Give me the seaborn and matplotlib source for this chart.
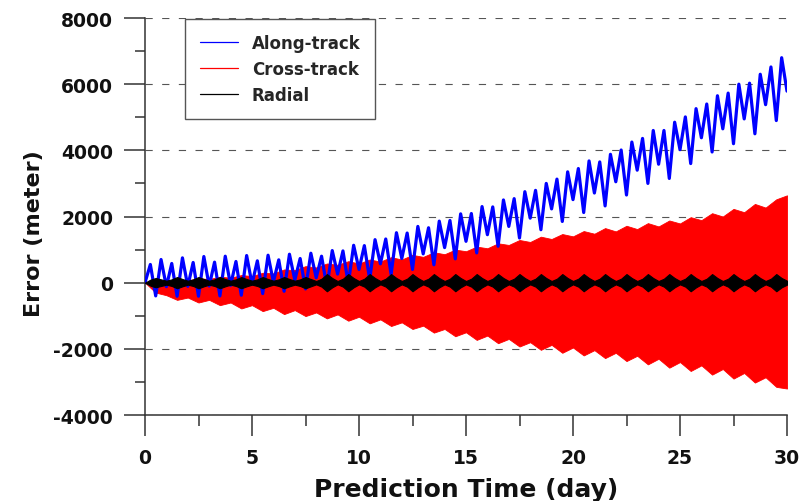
import numpy as np
import matplotlib
matplotlib.use("Agg")
import matplotlib.pyplot as plt
from matplotlib.lines import Line2D
from matplotlib.ticker import MultipleLocator
import seaborn as sns

# ---------------- data ----------------
# time grids (days)
days_fine = np.arange(0, 30.001, 0.25)   # 121 samples
days_half = np.arange(0, 30.001, 0.5)    # 61 samples

# Along-track error (m), sampled every 0.25 day
along_track = [
    0, 550, -400, 700,
    -120, 580, -410, 750,
    -110, 610, -410, 790,
    -100, 620, -400, 800,
    -80, 640, -380, 820,
    -40, 660, -330, 830,
    20, 690, -260, 860,
    80, 730, -190, 890,
    150, 800, -130, 970,
    260, 960, -30, 1130,
    400, 1120, 100, 1300,
    570, 1320, 250, 1510,
    730, 1500, 400, 1700,
    870, 1660, 540, 1860,
    1060, 1880, 720, 2080,
    1250, 2090, 900, 2300,
    1450, 2290, 1100, 2500,
    1700, 2540, 1350, 2750,
    1950, 2790, 1600, 3000,
    2230, 3130, 1850, 3350,
    2510, 3450, 2120, 3680,
    2710, 3650, 2320, 3880,
    3050, 4010, 2650, 4250,
    3400, 4360, 3000, 4600,
    3580, 4600, 3150, 4850,
    4020, 5010, 3600, 5260,
    4380, 5400, 3950, 5650,
    4650, 5730, 4200, 6000,
    4950, 6030, 4500, 6300,
    5380, 6520, 4900, 6800,
    5790,
]

# Cross-track error envelope (m), sampled every 0.5 day
cross_upper = [
    0, 60, 40, 90, 70, 130, 110, 180, 150, 230,
    200, 300, 280, 400, 380, 500, 460, 580, 540, 650,
    580, 700, 640, 770, 700, 840, 780, 920, 860, 1000,
    950, 1090, 1040, 1190, 1140, 1290, 1230, 1390, 1320, 1470,
    1400, 1560, 1480, 1650, 1550, 1720, 1620, 1800, 1700, 1880,
    1790, 1980, 1890, 2100, 2000, 2230, 2130, 2380, 2270, 2520,
    2640,
]
cross_lower = [
    0, -300, -380, -520, -450, -600, -520, -680, -600, -780,
    -680, -860, -760, -950, -830, -1010, -900, -1080, -960, -1150,
    -1030, -1230, -1110, -1310, -1200, -1400, -1300, -1510, -1400, -1620,
    -1500, -1730, -1600, -1830, -1700, -1930, -1800, -2030, -1880, -2120,
    -1960, -2200, -2040, -2280, -2120, -2370, -2210, -2470, -2300, -2570,
    -2400, -2670, -2500, -2780, -2610, -2900, -2730, -3020, -2860, -3150,
    -3200,
]

# Radial error half-width (m), sampled every 0.25 day
radial_amp = [
    0, 90, 140, 100,
    60, 100, 170, 110,
    60, 100, 170, 110,
    60, 100, 170, 110,
    60, 100, 170, 110,
    60, 100, 170, 110,
    60, 100, 170, 110,
    60, 100, 170, 110,
    50, 120, 260, 140,
    50, 120, 260, 140,
    50, 120, 260, 140,
    50, 120, 260, 140,
    50, 120, 260, 140,
    50, 120, 260, 140,
    50, 120, 260, 140,
    50, 120, 260, 140,
    50, 120, 260, 140,
    50, 120, 260, 140,
    50, 120, 260, 140,
    50, 120, 260, 140,
    50, 120, 260, 140,
    50, 120, 260, 140,
    50, 120, 260, 140,
    50, 120, 260, 140,
    50, 120, 260, 140,
    50, 120, 260, 140,
    50, 120, 260, 140,
    50, 120, 260, 140,
    50, 120, 260, 140,
    50, 120, 260, 140,
    60,
]

x_ticks = [0, 5, 10, 15, 20, 25, 30]
y_ticks = [-4000, -2000, 0, 2000, 4000, 6000, 8000]
series_labels = ["Along-track", "Cross-track", "Radial"]
series_colors = ["#0000ff", "#ff0000", "#000000"]

# ---------------- style ----------------
sns.set_style("ticks")
plt.rcParams["font.family"] = ["DejaVu Sans"]
plt.rcParams["font.weight"] = "bold"
plt.rcParams["axes.unicode_minus"] = False

fig = plt.figure(figsize=(8.1, 5.02), dpi=100)
ax = fig.add_axes([145 / 810, 1 - 416 / 502, 642 / 810, 397 / 502])

# Cross-track (dense oscillation drawn as its envelope)
ax.fill_between(days_half, cross_lower, cross_upper, color=series_colors[1],
                lw=0.6, edgecolor=series_colors[1], zorder=2)
# Along-track
sns.lineplot(x=days_fine, y=along_track, color=series_colors[0], lw=2.3,
             estimator=None, sort=False, ax=ax, zorder=3, legend=False)
# Radial
radial_lo = [-v for v in radial_amp]
ax.fill_between(days_fine, radial_lo, radial_amp, color=series_colors[2],
                lw=0.8, edgecolor=series_colors[2], zorder=4)

# axes
ax.set_xlim(0, 30)
ax.set_ylim(-4000, 8000)
ax.set_xticks(x_ticks)
ax.set_yticks(y_ticks)
ax.xaxis.set_minor_locator(MultipleLocator(2.5))
ax.yaxis.set_minor_locator(MultipleLocator(1000))
for s in ["top", "right"]:
    ax.spines[s].set_visible(False)
for s in ["left", "bottom"]:
    ax.spines[s].set_color("#333333")
    ax.spines[s].set_linewidth(1.1)

ax.tick_params(axis="x", which="major", direction="out", length=15, width=1.1,
               color="#333333", labelsize=13.5, pad=9, labelcolor="#111111")
ax.tick_params(axis="y", which="major", direction="out", length=15, width=1.1,
               color="#333333", labelsize=13.5, pad=8, labelcolor="#111111")
ax.tick_params(axis="x", which="minor", direction="out", length=8, width=1.1,
               color="#333333")
ax.tick_params(axis="y", which="minor", direction="out", length=7, width=1.1,
               color="#333333")
for lab in ax.get_xticklabels() + ax.get_yticklabels():
    lab.set_fontweight("bold")

ax.yaxis.grid(True, which="major", linestyle=(0, (6.5, 8.5)), color="#555555",
              lw=0.8, zorder=0)
ax.set_axisbelow(True)

ax.set_xlabel("Prediction Time (day)", fontsize=18, fontweight="bold",
              color="#111111")
ax.set_ylabel("Error (meter)", fontsize=16, fontweight="bold", color="#111111")
ax.xaxis.set_label_coords(0.5, -0.155)
ax.yaxis.set_label_coords(-0.157, 0.46)

handles = [Line2D([0], [0], color=c, lw=0.9) for c in series_colors]
leg = ax.legend(handles, series_labels, loc="upper left",
                bbox_to_anchor=(0.0623, 0.9975), frameon=True, fancybox=False,
                edgecolor="#555555", framealpha=1,
                prop={"weight": "bold", "size": 12},
                handlelength=2.3, labelspacing=0.47, borderpad=0.9,
                handletextpad=0.8, borderaxespad=0)
leg.get_frame().set_linewidth(1.0)

fig.savefig("out.png", dpi=100)
